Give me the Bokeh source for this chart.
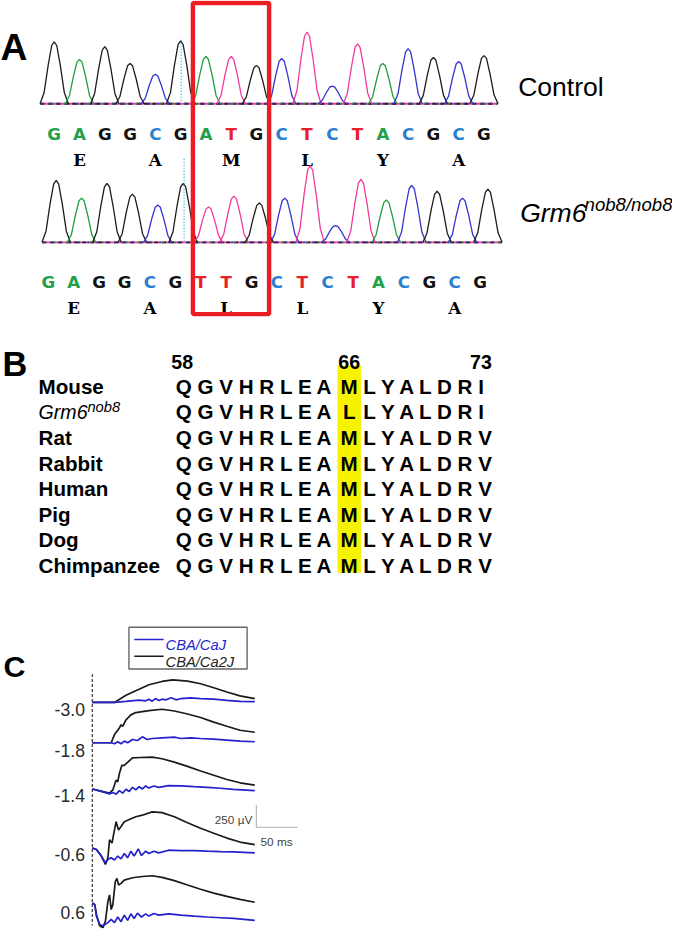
from bokeh.plotting import figure
from bokeh.models import Range1d
from bokeh.core.properties import value
from bokeh.embed import file_html
from bokeh.resources import INLINE

# ---------------- data: panel A (chromatograms) ----------------
control_bases = list("GAGGCGATGCTCTACGCG")
control_heights = [63, 45, 58, 41, 30, 64, 48, 48, 39, 46, 73, 18, 61, 41, 56, 47, 43, 49]
control_aa = ["E", "A", "M", "L", "Y", "A"]
mutant_bases = list("GAGGCGTTGCTCTACGCG")
mutant_heights = [63, 45, 60, 49, 38, 60, 36, 47, 40, 45, 78, 17, 64, 43, 58, 52, 45, 54]
mutant_aa = ["E", "A", "L", "L", "Y", "A"]
codon_mid = [1, 4, 7, 10, 13, 16]

# ---------------- data: panel B (alignment) ----------------
species = ["Mouse", "Grm6", "Rat", "Rabbit", "Human", "Pig", "Dog", "Chimpanzee"]
seq_before = ["QGVHRLEA"] * 8
seq_66 = ["M", "L", "M", "M", "M", "M", "M", "M"]
seq_after = ["LYALDRI", "LYALDRI", "LYALDRV", "LYALDRV", "LYALDRV", "LYALDRV", "LYALDRV", "LYALDRV"]
positions = ["58", "66", "73"]

# ---------------- data: panel C (ERG traces, ms / uV) ----------------
erg_labels = ["-3.0", "-1.8", "-1.4", "-0.6", "0.6"]
caj_t = [
    [0, 27, 41, 57, 65, 69, 73, 77, 81, 85, 90, 96, 102, 108, 120, 132, 148, 164, 180, 198],
    [0, 23, 27, 31, 35, 39, 43, 49, 55, 61, 67, 73, 85, 100, 108, 120, 132, 148, 164, 180, 198],
    [0, 9, 21, 25, 29, 33, 37, 41, 45, 49, 53, 57, 61, 65, 69, 75, 81, 93, 108, 124, 140, 156, 172, 198],
    [0, 5, 11, 16, 19, 23, 27, 31, 35, 39, 43, 47, 51, 56, 60, 65, 69, 75, 81, 93, 108, 124, 140, 156, 172, 198],
    [0, 3, 5, 9, 12, 16, 19, 23, 27, 31, 35, 39, 43, 47, 51, 55, 60, 65, 69, 75, 81, 93, 108, 124, 140, 156, 172, 198],
]
caj_v = [
    [0, 0, 11, 25, 18, 36, 14, 43, 22, 36, 29, 51, 29, 43, 51, 43, 36, 22, 11, 8],
    [0, 0, -11, 11, -11, 18, 0, 36, 25, 65, 36, 47, 54, 62, 47, 54, 47, 40, 29, 18, 11],
    [0, -22, -54, -40, -58, -18, -47, -4, -29, 18, -11, 25, 0, 33, 11, 33, 18, 36, 33, 25, 18, 8, -4, -18],
    [0, -18, -90, -163, -127, -109, -134, -90, -120, -62, -109, -36, -90, -11, -84, -36, -62, -36, -54, -25, -29, -29, -36, -40, -43, -54],
    [0, -18, -145, -236, -253, -236, -217, -182, -217, -155, -207, -134, -192, -120, -171, -112, -155, -120, -145, -116, -134, -120, -134, -145, -155, -163, -171, -192],
]
ca2j_t = [
    [0, 27, 41, 57, 69, 85, 98, 116, 132, 148, 164, 180, 198],
    [0, 23, 27, 33, 35, 37, 41, 47, 53, 69, 85, 100, 116, 132, 148, 164, 180, 198],
    [0, 9, 21, 25, 27, 29, 31, 33, 36, 39, 43, 49, 59, 73, 85, 100, 116, 132, 148, 164, 180, 198],
    [0, 5, 11, 16, 19, 21, 24, 27, 29, 32, 35, 39, 45, 53, 61, 73, 85, 100, 116, 132, 148, 164, 180, 198],
    [0, 3, 5, 9, 13, 16, 19, 21, 23, 25, 28, 30, 32, 35, 39, 49, 61, 73, 85, 100, 116, 132, 148, 164, 180, 198],
]
ca2j_v = [
    [0, 0, 79, 145, 196, 232, 250, 236, 207, 163, 116, 73, 43],
    [0, 0, 90, 163, 199, 182, 253, 308, 334, 355, 370, 351, 318, 279, 228, 182, 138, 116],
    [0, -22, -47, -11, 43, 98, 79, 171, 261, 261, 293, 344, 348, 351, 334, 297, 250, 199, 152, 105, 68, 43],
    [0, -18, -90, -182, -109, 90, 54, 199, 290, 199, 236, 290, 315, 345, 362, 399, 391, 345, 279, 217, 163, 109, 65, 36],
    [0, -18, -127, -253, -272, -199, 18, 90, -73, -18, 236, 272, 199, 217, 253, 279, 293, 301, 283, 247, 199, 152, 109, 73, 40, 8],
]
legend_names = ["CBA/CaJ", "CBA/Ca2J"]

# ---------------- layout / style ----------------
W, H = 672, 931
RW, RH = 688.0, 947.0
S = 0.98
FONT = "Liberation Sans"

p = figure(width=W, height=H, x_range=Range1d(0, RW), y_range=Range1d(RH, 0),
           output_backend="svg", toolbar_location=None, min_border=0,
           x_axis_location=None, y_axis_location=None)
p.grid.visible = False
p.outline_line_color = None
p.background_fill_color = "white"


def xr(a, b):
    return Range1d(start=(0 - a) / b, end=(RW - a) / b)


def yr(base, c):
    return Range1d(start=(base - RH) / c, end=base / c)


uv_px = 23.0 / 250.0
p.extra_x_ranges = {"base_c": xr(55, 25.88), "base_m": xr(57, 26.0), "ms": xr(94, 0.84)}
erg_base = [714, 755, 802, 862, 918]
p.extra_y_ranges = {"sig_c": yr(105, 1.0), "sig_m": yr(246, 1.0),
                    "row": Range1d(start=(RH - 385) / 26.0, end=(0 - 385) / 26.0)}
for k, b in enumerate(erg_base):
    p.extra_y_ranges[f"uv{k}"] = yr(b, uv_px)


def T(x, y, text, size, color="#000000", style="normal", align="left", font=FONT,
      xname="default", yname="default", x_offset=0, cap=0.716, dy=0):
    # y is the visual centre of capitals; drawn on the alphabetic baseline
    p.text(x=x, y=y, text=text, text_font=value(font), text_font_size=f"{size * S:.1f}px",
           text_font_style=style, text_align=align, text_baseline="alphabetic",
           text_color=color, x_range_name=xname, y_range_name=yname, x_offset=x_offset,
           y_offset=(cap * size / 2 + dy) * S)


trace_col = {"G": "#1c1c1c", "A": "#1e9e3c", "T": "#f2399c", "C": "#3535d0"}
letter_col = {"G": "#111111", "A": "#22a04a", "T": "#e8202a", "C": "#2a7fd0"}
prof_dx = [-0.56, -0.4, -0.24, -0.1, 0, 0.1, 0.24, 0.4, 0.56]
prof_f = [0, 0.18, 0.62, 0.94, 1, 0.94, 0.62, 0.18, 0]

# ---------------- panel A ----------------
T([0], [34], ["A"], 38, style="bold")


def chromatogram(bases, heights, aa, xname, yname, letter_y, aa_y, x_off):
    for col, dash in (("#f2399c", "solid"), ("#222222", "4 4"), ("#1e9e3c", "2 10"), ("#3535d0", "2 7")):
        p.line([-0.55, 17.55], [0, 0], x_range_name=xname, y_range_name=yname,
               line_color=col, line_width=1.8, line_dash=dash)
    xs, ys, cs = [], [], []
    for i, (b, h) in enumerate(zip(bases, heights)):
        xs.append([i + d for d in prof_dx])
        ys.append([h * f for f in prof_f])
        cs.append(trace_col[b])
    p.multi_line(xs, ys, line_color=cs, line_width=1.3, x_range_name=xname, y_range_name=yname)
    cols = [letter_col[b] for b in bases]
    cols[0] = letter_col["A"]
    T(list(range(len(bases))), [letter_y] * len(bases), bases, 17, color=cols,
      style="bold", align="center", font="DejaVu Sans", xname=xname, x_offset=x_off, cap=0.729)
    T(codon_mid, [aa_y] * len(aa), aa, 17, style="bold", align="center",
      font="DejaVu Serif", xname=xname, x_offset=x_off, cap=0.729)


chromatogram(control_bases, control_heights, control_aa, "base_c", "sig_c", 130, 156, 0)
chromatogram(mutant_bases, mutant_heights, mutant_aa, "base_m", "sig_m", 280, 307, -8 * S)

p.segment(x0=[185, 188], x1=[185, 188], y0=[40, 161], y1=[105, 246],
          line_color="#39b8dc", line_width=1.5, line_dash="1 2")
p.quad(left=[197], right=[275], top=[2.5], bottom=[319], fill_alpha=0,
       line_color="#ec1c24", line_width=4.5 * S)

T([530], [78], ["Control"], 27)
T([532], [207], ["Grm6"], 27, style="italic")
T([598], [207], ["nob8/nob8"], 19, style="italic", cap=0)

# ---------------- panel B ----------------
T([2], [357], ["B"], 35, style="bold")
rows = list(range(len(species)))
p.quad(left=[345], right=[369], top=[-0.54], bottom=[7.58], y_range_name="row",
       fill_color="#f7f200", line_color=None)
T([186, 357], [-0.92, -0.92], positions[:2], 20, style="bold", align="center", yname="row")
T([503], [-0.92], positions[2:], 20, style="bold", align="right", yname="row")
for i, name in enumerate(species):
    if name == "Grm6":
        T([39], [i], ["Grm6"], 20, style="italic", yname="row")
        T([89], [i], ["nob8"], 15, style="italic", yname="row", cap=0, dy=2)
    else:
        T([39], [i], [name], 21, style="bold", yname="row")
T([340] * 8, rows, [" ".join(s) for s in seq_before], 21, style="bold", align="right", yname="row")
T([357] * 8, rows, seq_66, 21, style="bold", align="center", yname="row")
T([371.5] * 8, rows, [" ".join(s) for s in seq_after], 21, style="bold", align="left", yname="row")

# ---------------- panel C ----------------
T([3], [666], ["C"], 31, style="bold")
p.quad(left=[131.5], right=[252.5], top=[637.5], bottom=[680], fill_color="white",
       line_color="#666666", line_width=1.4)
p.segment(x0=[137, 137], x1=[167, 167], y0=[650, 667], y1=[650, 667],
          line_color=["#2424d0", "#1a1a1a"], line_width=1.4)
T([169, 169], [650, 667.5], legend_names, 15, color=["#2424d0", "#222222"], style="italic")

p.segment(x0=[0], x1=[0], y0=[685], y1=[941], x_range_name="ms",
          line_color="#444444", line_width=1.3, line_dash="3 2")

label_dy = [1, 1, 0, 0, 3]
for k, lab in enumerate(erg_labels):
    yn = f"uv{k}"
    p.line(ca2j_t[k], ca2j_v[k], x_range_name="ms", y_range_name=yn,
           line_color="#1a1a1a", line_width=1.7)
    p.line(caj_t[k], caj_v[k], x_range_name="ms", y_range_name=yn,
           line_color="#2222cc", line_width=1.7)
    T([-9], [0], [lab], 18, color="#2a2a2a", align="right", xname="ms", yname=yn, dy=label_dy[k])

p.line([200, 200, 250], [478, 228, 228], x_range_name="ms", y_range_name="uv3",
       line_color="#bdbdbd", line_width=1.3)
T([195], [360], ["250 \u00b5V"], 12, color="#444444", align="right", xname="ms", yname="uv3")
T([205], [110], ["50 ms"], 12, color="#444444", align="left", xname="ms", yname="uv3")

open("out.html", "w").write(file_html(p, INLINE))
